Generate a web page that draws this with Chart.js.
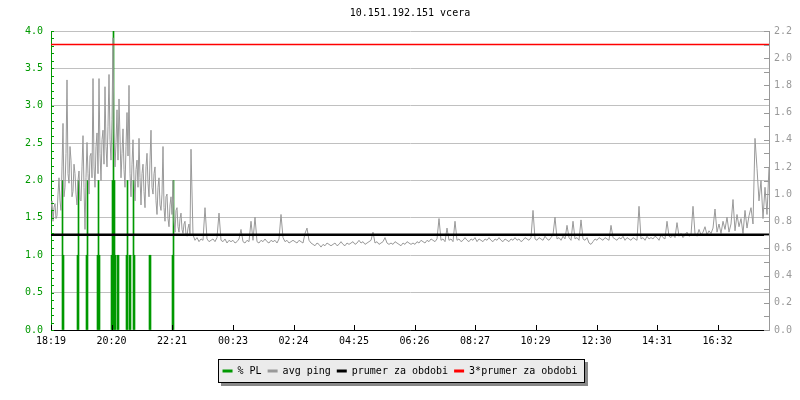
<!DOCTYPE html>
<html>
<head>
<meta charset="utf-8">
<title>10.151.192.151 vcera</title>
<script src="https://cdn.jsdelivr.net/npm/chart.js@4"></script>
<style>
  body { margin: 0; background: #fff; }
  #wrap { width: 800px; height: 400px; }
</style>
</head>
<body>
<div id="wrap"><canvas id="myChart"></canvas></div>
<script>
// time axis: minutes since 18:19
const tickLabels = ['18:19', '20:20', '22:21', '00:23', '02:24', '04:25', '06:26', '08:27', '10:29', '12:30', '14:31', '16:32']
const tickMinutes = [0, 121, 242, 364, 485, 606, 727, 848, 969, 1091, 1212, 1333]
const lastMinute = 1436

// avg ping (ms), evening part: one sample every 2 minutes (18:19 - 22:59)
const pingEarlyStep = 2
const pingEarly = [
    0.88, 0.95, 0.80, 0.90, 0.93, 0.82, 0.84, 1.00, 1.12, 0.95,
    0.88, 1.20, 1.52, 0.98, 1.05, 1.30, 1.84, 1.15, 1.08, 1.35,
    1.25, 0.98, 1.02, 1.22, 1.15, 1.00, 0.92, 1.10, 1.17, 0.96,
    0.95, 1.20, 1.43, 1.05, 0.74, 1.12, 1.38, 1.15, 1.00, 1.28,
    1.30, 1.12, 1.85, 1.20, 1.05, 1.35, 1.45, 1.15, 1.85, 1.30,
    1.10, 1.40, 1.47, 1.22, 1.79, 1.35, 1.20, 1.50, 1.88, 1.40,
    1.25, 1.55, 2.15, 1.45, 1.20, 1.38, 1.62, 1.25, 1.70, 1.42,
    1.12, 1.30, 1.48, 1.18, 1.05, 1.35, 1.60, 1.28, 1.80, 1.15,
    0.98, 1.22, 1.40, 1.10, 0.95, 1.18, 1.25, 1.05, 1.41, 1.12,
    0.92, 1.15, 1.22, 1.02, 0.90, 1.20, 1.30, 1.08, 0.98, 1.25,
    1.47, 1.05, 1.00, 1.15, 1.20, 0.95, 0.85, 1.05, 1.12, 0.92,
    0.88, 1.00, 1.35, 0.90, 0.80, 0.98, 1.00, 0.82, 0.76, 0.92,
    0.98, 0.85, 1.10, 0.80, 0.72, 0.88, 0.90, 0.76, 0.72, 0.82,
    0.86, 0.74, 0.71, 0.78, 0.80, 0.70, 0.69, 0.75, 0.78, 0.70,
    1.33
]

// avg ping (ms), rest of the day: one sample every 4 minutes
const pingLateStart = 284
const pingLateStep = 4
const pingLate = [
    0.70, 0.66, 0.68, 0.65, 0.67, 0.66, 0.90, 0.67, 0.65, 0.66,
    0.67, 0.65, 0.68, 0.86, 0.66, 0.65, 0.67, 0.64, 0.66, 0.65,
    0.66, 0.64, 0.65, 0.67, 0.74, 0.65, 0.64, 0.66, 0.65, 0.80,
    0.66, 0.83, 0.65, 0.64, 0.66, 0.65, 0.67, 0.65, 0.64, 0.66,
    0.65, 0.66, 0.64, 0.67, 0.85, 0.68, 0.65, 0.66, 0.64, 0.65,
    0.66, 0.65, 0.64, 0.66, 0.65, 0.64, 0.71, 0.75, 0.66, 0.64,
    0.63, 0.62, 0.64, 0.63, 0.61, 0.63, 0.62, 0.64, 0.63, 0.62,
    0.63, 0.64, 0.62, 0.63, 0.65, 0.63, 0.62, 0.64, 0.63, 0.64,
    0.65, 0.63, 0.64, 0.66, 0.64, 0.65, 0.63, 0.64, 0.65, 0.66,
    0.72, 0.64, 0.65, 0.63, 0.64, 0.65, 0.68, 0.64, 0.63, 0.64,
    0.63, 0.65, 0.64, 0.63, 0.62, 0.64, 0.63, 0.65, 0.64, 0.63,
    0.64, 0.63, 0.65, 0.64, 0.66, 0.65, 0.64, 0.66, 0.65, 0.67,
    0.66, 0.65, 0.67, 0.82, 0.66, 0.67, 0.65, 0.75, 0.66, 0.67,
    0.65, 0.80, 0.66, 0.67, 0.65, 0.66, 0.68, 0.66, 0.65, 0.67,
    0.66, 0.68, 0.65, 0.67, 0.66, 0.65, 0.67, 0.66, 0.68, 0.66,
    0.65, 0.67, 0.66, 0.68, 0.66, 0.65, 0.67, 0.66, 0.65, 0.67,
    0.66, 0.68, 0.66, 0.67, 0.65, 0.66, 0.68, 0.67, 0.66, 0.68,
    0.88, 0.67, 0.66, 0.68, 0.67, 0.66, 0.69, 0.67, 0.66, 0.68,
    0.70, 0.83, 0.67, 0.68, 0.66, 0.69, 0.67, 0.77, 0.68, 0.66,
    0.80, 0.67, 0.68, 0.66, 0.81, 0.67, 0.66, 0.68, 0.64, 0.63,
    0.65, 0.67, 0.66, 0.68, 0.67, 0.66, 0.68, 0.67, 0.66, 0.77,
    0.68, 0.67, 0.66, 0.68, 0.67, 0.69, 0.66, 0.68, 0.67, 0.66,
    0.68, 0.67, 0.66, 0.91, 0.67, 0.68, 0.66, 0.69, 0.67, 0.68,
    0.67, 0.69, 0.68, 0.66, 0.70, 0.68, 0.67, 0.80, 0.69, 0.68,
    0.70, 0.68, 0.79, 0.69, 0.71, 0.68, 0.70, 0.72, 0.69,
    0.70, 0.91, 0.71, 0.69, 0.74, 0.70, 0.72, 0.76, 0.70, 0.73,
    0.71, 0.75, 0.89, 0.72, 0.78, 0.71, 0.80, 0.74, 0.83, 0.72,
    0.78, 0.96, 0.73, 0.85, 0.76, 0.82, 0.71, 0.88, 0.75, 0.84,
    0.90, 0.78, 1.41, 1.19, 0.95, 1.10, 0.82, 1.05, 0.85, 1.20
]

// packet loss (%)
const plMinutes = [23, 25, 53, 55, 71, 73, 93, 95, 97, 121, 123, 125, 127, 129, 133, 135, 151, 153, 157, 159, 165, 167, 197, 199, 243, 245]
const plValues = [2, 1, 1, 2, 1, 2, 1, 2, 1, 1, 2, 4, 2, 1, 1, 1, 1, 2, 1, 1, 2, 1, 1, 1, 1, 2]

const periodAvg = 0.70
const periodAvg3 = 2.10

const GREEN = '#009900'
const GREY = '#999999'
const FONT = 'DejaVu Sans Mono'

let pingData = pingEarly.map((v, i) => ({ x: i * pingEarlyStep, y: v }))
    .concat(pingLate.map((v, i) => ({ x: pingLateStart + i * pingLateStep, y: v })))
let plData = plMinutes.map((m, i) => ({ x: m, y: plValues[i] }))

// grey box with shadow behind the legend
const legendBox = {
    id: 'legendBox',
    beforeDraw(chart) {
        const hb = chart.legend.legendHitBoxes
        if (!hb || !hb.length) return
        const ctx = chart.ctx
        const last = hb[hb.length - 1]
        const l = Math.round(hb[0].left) - 5
        const r = Math.round(last.left + last.width) + 8
        const t = Math.round(hb[0].top) - 7
        const h = 24
        ctx.save()
        ctx.fillStyle = '#888888'
        ctx.fillRect(l + 3, t + 3, r - l, h)
        ctx.fillStyle = '#ebebeb'
        ctx.fillRect(l, t, r - l, h)
        ctx.strokeStyle = '#000'
        ctx.lineWidth = 1
        ctx.strokeRect(l + 0.5, t + 0.5, r - l - 1, h - 1)
        ctx.restore()
    }
}

// small tick marks pointing into the plot
const innerTicks = {
    id: 'innerTicks',
    afterDraw(chart) {
        const ctx = chart.ctx
        const area = chart.chartArea
        const { x, y, y1 } = chart.scales
        ctx.save()
        ctx.lineWidth = 1
        ctx.strokeStyle = GREEN
        for (let k = 0; k <= 40; k++) {
            const py = Math.round(y.getPixelForValue(k / 10)) + 0.5
            ctx.beginPath(); ctx.moveTo(area.left, py); ctx.lineTo(area.left + 3, py); ctx.stroke()
        }
        ctx.strokeStyle = GREY
        for (let k = 0; k <= 22; k++) {
            const py = Math.round(y1.getPixelForValue(k / 10)) + 0.5
            ctx.beginPath(); ctx.moveTo(area.right - 5, py); ctx.lineTo(area.right, py); ctx.stroke()
        }
        ctx.strokeStyle = '#000'
        x.ticks.forEach(function (t) {
            const px = Math.round(x.getPixelForValue(t.value)) + 0.5
            ctx.beginPath(); ctx.moveTo(px, area.bottom); ctx.lineTo(px, area.bottom - 5); ctx.stroke()
        })
        ctx.restore()
    }
}

let currChart = document.getElementById('myChart').getContext('2d')

let pingChart = new Chart(currChart, {
    type: 'line',
    data: {
        datasets: [{
            type: 'bar',
            label: '% PL',
            data: plData,
            yAxisID: 'y',
            backgroundColor: GREEN,
            borderColor: GREEN,
            borderWidth: 0,
            barThickness: 1,
            grouped: false,
            order: 3,
        }, {
            label: 'avg ping',
            data: pingData,
            yAxisID: 'y1',
            borderColor: GREY,
            backgroundColor: GREY,
            borderWidth: 1,
            pointRadius: 0,
            tension: 0,
            order: 2,
        }, {
            label: 'prumer za obdobi',
            data: [{ x: 0, y: periodAvg }, { x: lastMinute, y: periodAvg }],
            yAxisID: 'y1',
            borderColor: '#000000',
            backgroundColor: '#000000',
            borderWidth: 2.5,
            pointRadius: 0,
            order: 1,
        }, {
            label: '3*prumer za obdobi',
            data: [{ x: 0, y: periodAvg3 }, { x: lastMinute, y: periodAvg3 }],
            yAxisID: 'y1',
            borderColor: '#ff0000',
            backgroundColor: '#ff0000',
            borderWidth: 1.5,
            pointRadius: 0,
            order: 0,
        }]
    },
    options: {
        responsive: true,
        maintainAspectRatio: false,
        animation: false,
        layout: { padding: { left: 0, right: 0, top: 0, bottom: 14 } },
        plugins: {
            tooltip: { enabled: false },
            title: {
                display: true,
                text: '10.151.192.151 vcera',
                color: '#000',
                fullSize: false,
                font: { family: FONT, size: 10, weight: 'normal' },
                padding: { top: 7, bottom: 12 },
            },
            legend: {
                position: 'bottom',
                labels: {
                    color: '#000',
                    font: { family: FONT, size: 10 },
                    boxWidth: 10,
                    boxHeight: 3,
                    padding: 6,
                    sort: (a, b) => a.datasetIndex - b.datasetIndex,
                    generateLabels(chart) {
                        const items = Chart.defaults.plugins.legend.labels.generateLabels(chart)
                        items.forEach(function (it) { it.lineWidth = 0; it.strokeStyle = it.fillStyle })
                        return items
                    },
                },
            },
        },
        scales: {
            x: {
                type: 'linear',
                position: 'bottom',
                min: 0,
                max: lastMinute,
                offset: false,
                afterFit(scale) { scale.height = 56 - scale.chart.legend.height },
                afterBuildTicks(scale) { scale.ticks = tickMinutes.map(v => ({ value: v })) },
                grid: { drawOnChartArea: false, drawTicks: false },
                border: { color: '#000', width: 1 },
                ticks: {
                    autoSkip: false,
                    maxRotation: 0,
                    padding: 5,
                    color: '#000',
                    font: { family: FONT, size: 10 },
                    callback: (v, i) => tickLabels[i],
                },
            },
            y: {
                position: 'left',
                min: 0,
                max: 4,
                afterFit(scale) { scale.width = 51 },
                grid: { color: '#c0c0c0', drawTicks: false },
                border: { color: GREEN, width: 1 },
                ticks: {
                    stepSize: 0.5,
                    padding: 8,
                    color: GREEN,
                    font: { family: FONT, size: 10 },
                    callback: v => v.toFixed(1),
                },
            },
            y1: {
                position: 'right',
                min: 0,
                max: 2.2,
                afterFit(scale) { scale.width = 31 },
                grid: { drawOnChartArea: false, drawTicks: false },
                border: { color: GREY, width: 1 },
                ticks: {
                    stepSize: 0.2,
                    padding: 5,
                    color: GREY,
                    font: { family: FONT, size: 10 },
                    callback: v => v.toFixed(1),
                },
            },
        },
    },
    plugins: [legendBox, innerTicks],
})
</script>
</body>
</html>
